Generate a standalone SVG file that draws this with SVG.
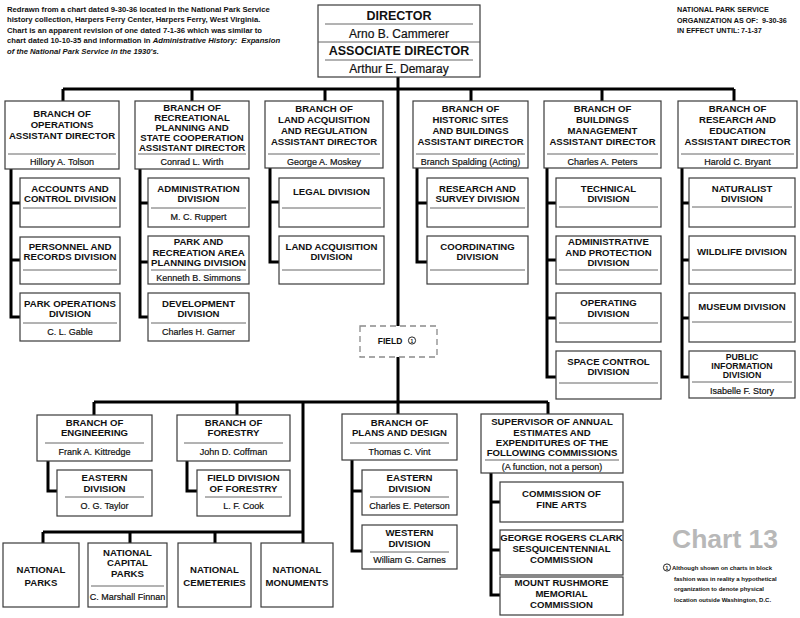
<svg xmlns="http://www.w3.org/2000/svg" width="800" height="618" viewBox="0 0 800 618">
<style>
.bg{fill:#fff}
.box{fill:#fff;stroke:#3a3a3a;stroke-width:1.2}
.dash{fill:#fff;stroke:#8a8a8a;stroke-width:1.3;stroke-dasharray:6 4}
.dv{stroke:#555;stroke-width:0.9}
.c{stroke:#000;stroke-width:3;fill:none}
text{font-family:"Liberation Sans",Arial,Helvetica,sans-serif;fill:#111}
.h{font-weight:bold;font-size:9.6px;text-anchor:middle}
.h9{font-weight:bold;font-size:8.8px;text-anchor:middle}
.n{font-size:9px;text-anchor:middle;stroke:#111;stroke-width:0.2}
.dh{font-weight:bold;font-size:12.5px;text-anchor:middle}
.dn{font-size:12px;text-anchor:middle;stroke:#111;stroke-width:0.2}
.note{font-weight:bold;font-size:7.7px}
.note2{font-weight:bold;font-size:7.2px}
.fn{font-weight:bold;font-size:6px}
.chart{font-weight:bold;font-size:26.5px;fill:#b8b8b8}
</style>
<rect class="bg" width="800" height="618"/>

<g id="notes">
<text class="note" x="7" y="11.5">Redrawn from a chart dated 9-30-36 located in the National Park Service</text>
<text class="note" x="7" y="21.5">history collection, Harpers Ferry Center, Harpers Ferry, West Virginia.</text>
<text class="note" x="7" y="32.5">Chart is an apparent revision of one dated 7-1-36 which was similar to</text>
<text class="note" x="7" y="42.5">chart dated 10-10-35 and information in <tspan font-style="italic">Administrative History:</tspan><tspan font-style="italic" dx="4">Expansion</tspan></text>
<text class="note" x="7" y="53.5" font-style="italic">of the National Park Service in the 1930's.</text>
<text class="note2" x="677" y="12">NATIONAL PARK SERVICE</text>
<text class="note2" x="677" y="22.5">ORGANIZATION AS OF:<tspan x="762">9-30-36</tspan></text>
<text class="note2" x="677" y="33">IN EFFECT UNTIL:<tspan x="741">7-1-37</tspan></text>
<text class="chart" x="672" y="548">Chart 13</text>
<circle cx="667" cy="567.5" r="3.6" fill="none" stroke="#111" stroke-width="0.9"/>
<text x="667" y="569.6" font-size="5px" font-weight="bold" text-anchor="middle">1</text>
<text class="fn" x="672" y="570">Although shown on charts in block</text>
<text class="fn" x="674" y="580.5">fashion was in reality a hypothetical</text>
<text class="fn" x="674" y="591">organization to denote physical</text>
<text class="fn" x="674" y="601.5">location outside Washington, D.C.</text>
</g>

<g id="connectors">
<path class="c" d="M398,77 V326 M398,357 V414"/>
<path class="c" d="M63,89 H734 M63,89 V101 M192,89 V101 M325,89 V101 M471,89 V101 M602,89 V101 M734,89 V101"/>
<path class="c" d="M11,169 V317 H20 M11,203 H20 M11,260 H20"/>
<path class="c" d="M140,169 V317 H148 M140,203 H148 M140,262 H148"/>
<path class="c" d="M270,168 V262 H279 M270,202 H279"/>
<path class="c" d="M417,168 V262 H427 M417,203 H427"/>
<path class="c" d="M547,168 V377 H556 M547,203 H556 M547,260 H556 M547,318 H556"/>
<path class="c" d="M682,168 V377 H689 M682,203 H689 M682,260 H689 M682,318 H689"/>
<path class="c" d="M94,402 H548 M94,402 V415 M237,402 V415 M548,402 V414 M303,402 V543"/>
<path class="c" d="M43,532 H303 M43,532 V543 M130,532 V543 M215,532 V543"/>
<path class="c" d="M48,461 V491 H57"/>
<path class="c" d="M187,461 V491 H197"/>
<path class="c" d="M352,460 V551 H362 M352,491 H362"/>
<path class="c" d="M491,473 V595 H500 M491,502 H500 M491,550 H500"/>
</g>

<g id="director">
<rect class="box" x="318" y="5" width="162" height="72"/>
<text class="dh" x="399" y="19.5">DIRECTOR</text>
<line class="dv" x1="325" y1="24" x2="473" y2="24"/>
<text class="dn" x="399" y="37.5">Arno B. Cammerer</text>
<line class="dv" x1="318" y1="42" x2="480" y2="42" stroke-width="1.1"/>
<text class="dh" x="399" y="55">ASSOCIATE DIRECTOR</text>
<line class="dv" x1="325" y1="60" x2="473" y2="60"/>
<text class="dn" x="399" y="72.5">Arthur E. Demaray</text>
</g>

<g id="branch-operations">
<rect class="box" x="5" y="101" width="114" height="68"/>
<text class="h" x="62" y="117">BRANCH OF</text>
<text class="h" x="62" y="128">OPERATIONS</text>
<text class="h" x="62" y="139">ASSISTANT DIRECTOR</text>
<line class="dv" x1="8" y1="154" x2="116" y2="154"/>
<text class="n" x="62" y="165">Hillory A. Tolson</text>
</g>
<g id="accounts-control">
<rect class="box" x="20" y="178" width="100" height="49"/>
<text class="h" x="70" y="192">ACCOUNTS AND</text>
<text class="h" x="70" y="202">CONTROL DIVISION</text>
<line class="dv" x1="23" y1="208" x2="117" y2="208"/>
</g>
<g id="personnel-records">
<rect class="box" x="20" y="237" width="100" height="47"/>
<text class="h" x="70" y="250">PERSONNEL AND</text>
<text class="h" x="70" y="260">RECORDS DIVISION</text>
<line class="dv" x1="23" y1="270" x2="117" y2="270"/>
</g>
<g id="park-operations">
<rect class="box" x="20" y="293" width="100" height="48"/>
<text class="h" x="70" y="307">PARK OPERATIONS</text>
<text class="h" x="70" y="317">DIVISION</text>
<line class="dv" x1="23" y1="323" x2="117" y2="323"/>
<text class="n" x="70" y="335">C. L. Gable</text>
</g>

<g id="branch-recreational">
<rect class="box" x="135" y="101" width="114" height="68"/>
<text class="h" x="192" y="111">BRANCH OF</text>
<text class="h" x="192" y="121">RECREATIONAL</text>
<text class="h" x="192" y="131">PLANNING AND</text>
<text class="h" x="192" y="141">STATE COOPERATION</text>
<text class="h" x="192" y="150.5">ASSISTANT DIRECTOR</text>
<line class="dv" x1="138" y1="154" x2="246" y2="154"/>
<text class="n" x="192" y="165">Conrad L. Wirth</text>
</g>
<g id="administration">
<rect class="box" x="148" y="178" width="101" height="49"/>
<text class="h" x="198.5" y="192">ADMINISTRATION</text>
<text class="h" x="198.5" y="202">DIVISION</text>
<line class="dv" x1="151" y1="208" x2="246" y2="208"/>
<text class="n" x="198.5" y="220">M. C. Ruppert</text>
</g>
<g id="park-recreation-planning">
<rect class="box" x="148" y="236" width="101" height="48"/>
<text class="h" x="198.5" y="245">PARK AND</text>
<text class="h" x="198.5" y="256">RECREATION AREA</text>
<text class="h" x="198.5" y="266">PLANNING DIVISION</text>
<line class="dv" x1="151" y1="270" x2="246" y2="270"/>
<text class="n" x="198.5" y="281">Kenneth B. Simmons</text>
</g>
<g id="development">
<rect class="box" x="148" y="293" width="101" height="48"/>
<text class="h" x="198.5" y="307">DEVELOPMENT</text>
<text class="h" x="198.5" y="317">DIVISION</text>
<line class="dv" x1="151" y1="323" x2="246" y2="323"/>
<text class="n" x="198.5" y="335">Charles H. Garner</text>
</g>

<g id="branch-land">
<rect class="box" x="265" y="101" width="118" height="67"/>
<text class="h" x="324" y="112">BRANCH OF</text>
<text class="h" x="324" y="123">LAND ACQUISITION</text>
<text class="h" x="324" y="134">AND REGULATION</text>
<text class="h" x="324" y="145">ASSISTANT DIRECTOR</text>
<line class="dv" x1="268" y1="154" x2="380" y2="154"/>
<text class="n" x="324" y="165">George A. Moskey</text>
</g>
<g id="legal">
<rect class="box" x="279" y="178" width="105" height="49"/>
<text class="h" x="331.5" y="195">LEGAL DIVISION</text>
<line class="dv" x1="282" y1="208" x2="381" y2="208"/>
</g>
<g id="land-acquisition">
<rect class="box" x="279" y="236" width="105" height="48"/>
<text class="h" x="331.5" y="250">LAND ACQUISITION</text>
<text class="h" x="331.5" y="260">DIVISION</text>
<line class="dv" x1="282" y1="270" x2="381" y2="270"/>
</g>

<g id="branch-historic">
<rect class="box" x="413" y="101" width="115" height="67"/>
<text class="h" x="470.5" y="112">BRANCH OF</text>
<text class="h" x="470.5" y="123">HISTORIC SITES</text>
<text class="h" x="470.5" y="134">AND BUILDINGS</text>
<text class="h" x="470.5" y="145">ASSISTANT DIRECTOR</text>
<line class="dv" x1="416" y1="154" x2="525" y2="154"/>
<text class="n" x="470.5" y="165">Branch Spalding (Acting)</text>
</g>
<g id="research-survey">
<rect class="box" x="427" y="178" width="101" height="49"/>
<text class="h" x="477.5" y="192">RESEARCH AND</text>
<text class="h" x="477.5" y="202">SURVEY DIVISION</text>
<line class="dv" x1="430" y1="208" x2="525" y2="208"/>
</g>
<g id="coordinating">
<rect class="box" x="427" y="236" width="101" height="48"/>
<text class="h" x="477.5" y="250">COORDINATING</text>
<text class="h" x="477.5" y="260">DIVISION</text>
<line class="dv" x1="430" y1="270" x2="525" y2="270"/>
</g>

<g id="branch-buildings">
<rect class="box" x="544" y="101" width="117" height="67"/>
<text class="h" x="602.5" y="112">BRANCH OF</text>
<text class="h" x="602.5" y="123">BUILDINGS</text>
<text class="h" x="602.5" y="134">MANAGEMENT</text>
<text class="h" x="602.5" y="145">ASSISTANT DIRECTOR</text>
<line class="dv" x1="547" y1="154" x2="658" y2="154"/>
<text class="n" x="602.5" y="165">Charles A. Peters</text>
</g>
<g id="technical">
<rect class="box" x="556" y="178" width="105" height="49"/>
<text class="h" x="608.5" y="192">TECHNICAL</text>
<text class="h" x="608.5" y="202">DIVISION</text>
<line class="dv" x1="559" y1="207" x2="658" y2="207"/>
</g>
<g id="administrative-protection">
<rect class="box" x="556" y="236" width="105" height="48"/>
<text class="h" x="608.5" y="245">ADMINISTRATIVE</text>
<text class="h" x="608.5" y="256">AND PROTECTION</text>
<text class="h" x="608.5" y="266">DIVISION</text>
<line class="dv" x1="559" y1="270" x2="658" y2="270"/>
</g>
<g id="operating">
<rect class="box" x="556" y="293" width="105" height="49"/>
<text class="h" x="608.5" y="306">OPERATING</text>
<text class="h" x="608.5" y="317">DIVISION</text>
<line class="dv" x1="559" y1="323" x2="658" y2="323"/>
</g>
<g id="space-control">
<rect class="box" x="556" y="351" width="105" height="48"/>
<text class="h" x="608.5" y="365">SPACE CONTROL</text>
<text class="h" x="608.5" y="375">DIVISION</text>
<line class="dv" x1="559" y1="383" x2="658" y2="383"/>
</g>

<g id="branch-research">
<rect class="box" x="678" y="101" width="119" height="67"/>
<text class="h" x="737.5" y="112">BRANCH OF</text>
<text class="h" x="737.5" y="123">RESEARCH AND</text>
<text class="h" x="737.5" y="134">EDUCATION</text>
<text class="h" x="737.5" y="145">ASSISTANT DIRECTOR</text>
<line class="dv" x1="681" y1="154" x2="794" y2="154"/>
<text class="n" x="737.5" y="165">Harold C. Bryant</text>
</g>
<g id="naturalist">
<rect class="box" x="689" y="178" width="106" height="49"/>
<text class="h" x="742" y="192">NATURALIST</text>
<text class="h" x="742" y="202">DIVISION</text>
<line class="dv" x1="692" y1="207" x2="792" y2="207"/>
</g>
<g id="wildlife">
<rect class="box" x="689" y="236" width="106" height="48"/>
<text class="h" x="742" y="255">WILDLIFE DIVISION</text>
<line class="dv" x1="692" y1="270" x2="792" y2="270"/>
</g>
<g id="museum">
<rect class="box" x="689" y="293" width="106" height="49"/>
<text class="h" x="742" y="310">MUSEUM DIVISION</text>
<line class="dv" x1="692" y1="322" x2="792" y2="322"/>
</g>
<g id="public-information">
<rect class="box" x="689" y="351" width="106" height="47"/>
<text class="h9" x="742" y="359.5">PUBLIC</text>
<text class="h9" x="742" y="368.5">INFORMATION</text>
<text class="h9" x="742" y="377.5">DIVISION</text>
<line class="dv" x1="692" y1="382" x2="792" y2="382"/>
<text class="n" x="742" y="394">Isabelle F. Story</text>
</g>

<g id="field">
<rect class="dash" x="360" y="326" width="77" height="31"/>
<text x="390" y="344" font-size="8.5px" font-weight="bold" text-anchor="middle">FIELD</text>
<circle cx="412" cy="340.5" r="3.6" fill="none" stroke="#111" stroke-width="0.9"/>
<text x="412" y="342.6" font-size="5px" font-weight="bold" text-anchor="middle">1</text>
</g>

<g id="branch-engineering">
<rect class="box" x="37" y="415" width="115" height="46"/>
<text class="h" x="94.5" y="426">BRANCH OF</text>
<text class="h" x="94.5" y="436">ENGINEERING</text>
<line class="dv" x1="45" y1="443" x2="144" y2="443"/>
<text class="n" x="94.5" y="455">Frank A. Kittredge</text>
</g>
<g id="eastern-engineering">
<rect class="box" x="57" y="470" width="95" height="46"/>
<text class="h" x="104.5" y="481">EASTERN</text>
<text class="h" x="104.5" y="492">DIVISION</text>
<line class="dv" x1="65" y1="497" x2="144" y2="497"/>
<text class="n" x="104.5" y="509">O. G. Taylor</text>
</g>
<g id="branch-forestry">
<rect class="box" x="177" y="415" width="113" height="46"/>
<text class="h" x="233.5" y="426">BRANCH OF</text>
<text class="h" x="233.5" y="436">FORESTRY</text>
<line class="dv" x1="184" y1="443" x2="283" y2="443"/>
<text class="n" x="233.5" y="455">John D. Coffman</text>
</g>
<g id="field-forestry">
<rect class="box" x="197" y="470" width="93" height="46"/>
<text class="h" x="243.5" y="481">FIELD DIVISION</text>
<text class="h" x="243.5" y="492">OF FORESTRY</text>
<line class="dv" x1="205" y1="497" x2="282" y2="497"/>
<text class="n" x="243.5" y="509">L. F. Cook</text>
</g>

<g id="national-parks">
<rect class="box" x="3" y="543" width="76" height="64"/>
<text class="h" x="41" y="573">NATIONAL</text>
<text class="h" x="41" y="586">PARKS</text>
</g>
<g id="national-capital-parks">
<rect class="box" x="88" y="543" width="79" height="64"/>
<text class="h" x="127.5" y="556">NATIONAL</text>
<text class="h" x="127.5" y="566">CAPITAL</text>
<text class="h" x="127.5" y="577">PARKS</text>
<line class="dv" x1="91" y1="586" x2="164" y2="586"/>
<text class="n" x="127.5" y="600">C. Marshall Finnan</text>
</g>
<g id="national-cemeteries">
<rect class="box" x="178" y="543" width="73" height="64"/>
<text class="h" x="214.5" y="573">NATIONAL</text>
<text class="h" x="214.5" y="586">CEMETERIES</text>
</g>
<g id="national-monuments">
<rect class="box" x="261" y="543" width="72" height="64"/>
<text class="h" x="297" y="573">NATIONAL</text>
<text class="h" x="297" y="586">MONUMENTS</text>
</g>

<g id="branch-plans">
<rect class="box" x="342" y="414" width="115" height="46"/>
<text class="h" x="399.5" y="426">BRANCH OF</text>
<text class="h" x="399.5" y="436">PLANS AND DESIGN</text>
<line class="dv" x1="350" y1="443" x2="449" y2="443"/>
<text class="n" x="399.5" y="455">Thomas C. Vint</text>
</g>
<g id="eastern-plans">
<rect class="box" x="362" y="470" width="95" height="45"/>
<text class="h" x="409.5" y="481">EASTERN</text>
<text class="h" x="409.5" y="492">DIVISION</text>
<line class="dv" x1="370" y1="497" x2="449" y2="497"/>
<text class="n" x="409.5" y="509">Charles E. Peterson</text>
</g>
<g id="western-plans">
<rect class="box" x="362" y="525" width="95" height="44"/>
<text class="h" x="409.5" y="536">WESTERN</text>
<text class="h" x="409.5" y="547">DIVISION</text>
<line class="dv" x1="370" y1="552" x2="449" y2="552"/>
<text class="n" x="409.5" y="563">William G. Carnes</text>
</g>

<g id="supervisor">
<rect class="box" x="481" y="414" width="142" height="59"/>
<text class="h" x="552" y="425">SUPERVISOR OF ANNUAL</text>
<text class="h" x="552" y="435.5">ESTIMATES AND</text>
<text class="h" x="552" y="445.5">EXPENDITURES OF THE</text>
<text class="h" x="552" y="455.5">FOLLOWING COMMISSIONS</text>
<line class="dv" x1="485" y1="460" x2="619" y2="460"/>
<text class="n" x="552" y="470">(A function, not a person)</text>
</g>
<g id="fine-arts">
<rect class="box" x="500" y="482" width="123" height="40"/>
<text class="h" x="561.5" y="497">COMMISSION OF</text>
<text class="h" x="561.5" y="508">FINE ARTS</text>
</g>
<g id="george-rogers-clark">
<rect class="box" x="500" y="530" width="123" height="45"/>
<text class="h" x="561.5" y="541">GEORGE ROGERS CLARK</text>
<text class="h" x="561.5" y="552">SESQUICENTENNIAL</text>
<text class="h" x="561.5" y="563">COMMISSION</text>
</g>
<g id="mount-rushmore">
<rect class="box" x="500" y="577" width="123" height="38"/>
<text class="h" x="561.5" y="586">MOUNT RUSHMORE</text>
<text class="h" x="561.5" y="597">MEMORIAL</text>
<text class="h" x="561.5" y="608">COMMISSION</text>
</g>
</svg>
